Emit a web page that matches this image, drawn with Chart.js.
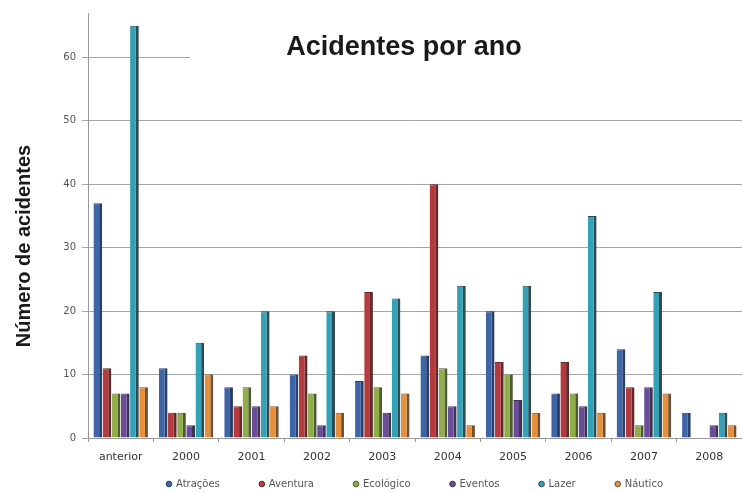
<!DOCTYPE html>
<html>
<head>
<meta charset="utf-8">
<script src="https://cdn.jsdelivr.net/npm/chart.js@4/dist/chart.umd.min.js"></script>
<style>
  html, body { margin: 0; padding: 0; background: #fff; }
  #wrap { width: 742px; height: 493px; }
</style>
</head>
<body>
<div id="wrap"><canvas id="c" width="742" height="493"></canvas></div>
<script>
// Accidents per year, by activity type
const categories = ['anterior', '2000', '2001', '2002', '2003', '2004', '2005', '2006', '2007', '2008'];
const atracoes  = [37, 11,  8, 10,  9, 13, 20,  7, 14, 4];
const aventura  = [11,  4,  5, 13, 23, 40, 12, 12,  8, 0];
const ecologico = [ 7,  4,  8,  7,  8, 11, 10,  7,  2, 0];
const eventos   = [ 7,  2,  5,  2,  4,  5,  6,  5,  8, 2];
const lazer     = [65, 15, 20, 20, 22, 24, 24, 35, 23, 4];
const nautico   = [ 8, 10,  5,  4,  7,  2,  4,  4,  7, 2];
const yTicks    = [0, 10, 20, 30, 40, 50, 60];

const seriesDefs = [
  ['Atrações',  atracoes,  '#3e65a8', '#2a3f66'],
  ['Aventura',  aventura,  '#b43a3d', '#5e2a2b'],
  ['Ecológico', ecologico, '#8fae4a', '#4d5a34'],
  ['Eventos',   eventos,   '#6a4c98', '#3d3550'],
  ['Lazer',     lazer,     '#34a2b6', '#2f4a52'],
  ['Náutico',   nautico,   '#e88f3c', '#6e5236']
];

const datasets = seriesDefs.map(([label, data, fill, edge]) => ({
  label, data,
  backgroundColor: fill,
  borderColor: edge,
  borderWidth: { top: 1, right: 3, bottom: 0, left: 0 },
  borderSkipped: 'bottom',
  categoryPercentage: 0.84,
  barPercentage: 0.95
}));

const LEGEND_PAD = 40;
const LEGEND_ROW_Y = 485;

// Legend keeps wide horizontal gaps but only reserves a thin strip at the bottom
const compactLegend = {
  id: 'compactLegend',
  beforeInit(chart) {
    const legend = chart.legend;
    const fit = legend.fit;
    legend.fit = function () {
      fit.call(this);
      this.height = 25;
    };
  },
  afterLayout(chart) {
    const legend = chart.legend;
    legend.top = LEGEND_ROW_Y - 6 - LEGEND_PAD;
    legend.bottom = chart.height;
  }
};

// Chart title inside the plot (on a white panel hiding the top gridline) and the y-axis title
const overlayText = {
  id: 'overlayText',
  beforeDatasetsDraw(chart) {
    const { ctx, chartArea, scales } = chart;
    const y60 = scales.y.getPixelForValue(60);
    ctx.save();
    ctx.fillStyle = '#ffffff';
    ctx.fillRect(190, y60 - 4, chartArea.right - 190 + 2, 8);
    ctx.restore();
  },
  afterDraw(chart) {
    const { ctx } = chart;
    ctx.save();
    ctx.fillStyle = '#1a1a1a';
    ctx.font = 'bold 27px "Liberation Sans", Arial, sans-serif';
    ctx.textAlign = 'center';
    ctx.textBaseline = 'middle';
    ctx.fillText('Acidentes por ano', 404, 48);

    ctx.translate(24, 246);
    ctx.rotate(-Math.PI / 2);
    ctx.font = 'bold 20px "Liberation Sans", Arial, sans-serif';
    ctx.fillText('Número de acidentes', 0, 0);
    ctx.restore();
  }
};

new Chart(document.getElementById('c'), {
  type: 'bar',
  data: { labels: categories, datasets },
  plugins: [compactLegend, overlayText],
  options: {
    responsive: false,
    animation: false,
    layout: { padding: { top: 13, right: 0, left: 4, bottom: 0 } },
    plugins: {
      title: { display: false },
      tooltip: { enabled: false },
      legend: {
        position: 'bottom',
        fullSize: false,
        labels: {
          usePointStyle: true,
          pointStyle: 'circle',
          boxWidth: 4,
          boxHeight: 4,
          padding: LEGEND_PAD,
          color: '#555',
          font: { family: '"DejaVu Sans", sans-serif', size: 10 }
        }
      }
    },
    scales: {
      x: {
        offset: true,
        afterFit(scale) { scale.height = 30; },
        grid: { offset: true, drawOnChartArea: false, tickLength: 4, color: '#999' },
        border: { color: '#999' },
        ticks: {
          color: '#333',
          padding: 9,
          font: { family: '"DejaVu Sans", sans-serif', size: 11 }
        }
      },
      y: {
        min: 0,
        max: 67,
        afterBuildTicks(scale) {
          scale.ticks = yTicks.map(v => ({ value: v }));
        },
        afterFit(scale) { scale.width = 84; },
        grid: { color: '#a6a6a6', tickLength: 6, lineWidth: 1 },
        border: { color: '#999' },
        ticks: {
          color: '#555',
          padding: 6,
          font: { family: '"DejaVu Sans", sans-serif', size: 10 }
        }
      }
    }
  }
});
</script>
</body>
</html>
